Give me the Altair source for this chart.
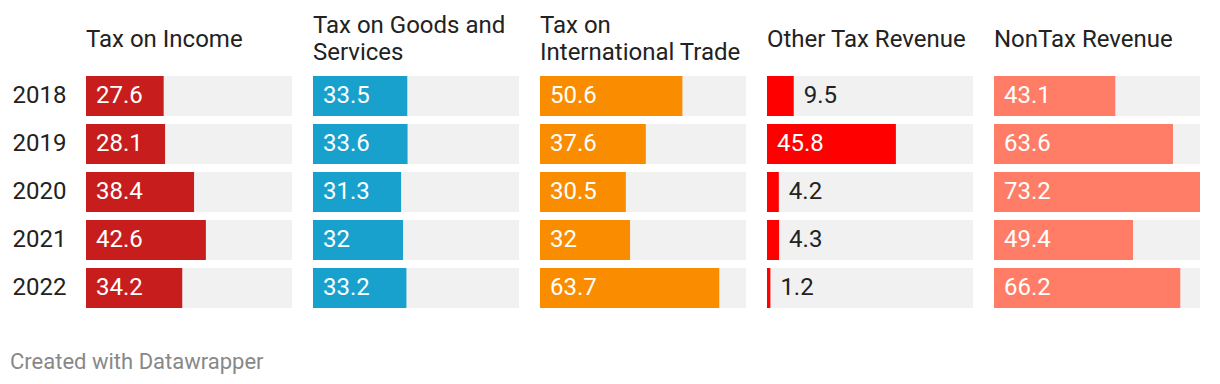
import altair as alt
import pandas as pd

years = ["2018", "2019", "2020", "2021", "2022"]
categories = ["Tax on Income", "Tax on Goods and Services", "Tax on International Trade",
              "Other Tax Revenue", "NonTax Revenue"]
titles = [["Tax on Income"], ["Tax on Goods and", "Services"], ["Tax on", "International Trade"],
          ["Other Tax Revenue"], ["NonTax Revenue"]]
tax_income = [27.6, 28.1, 38.4, 42.6, 34.2]
tax_goods = [33.5, 33.6, 31.3, 32, 33.2]
tax_trade = [50.6, 37.6, 30.5, 32, 63.7]
other_tax = [9.5, 45.8, 4.2, 4.3, 1.2]
nontax = [43.1, 63.6, 73.2, 49.4, 66.2]
colors = ["#c71e1d", "#18a1cd", "#fa8c00", "#ff0000", "#ff7d66"]

series = [tax_income, tax_goods, tax_trade, other_tax, nontax]
DOMAIN_MAX = max(max(s) for s in series)
INSIDE_MIN = 15

FONT = "Roboto"
FS = 24
W, H = 206, 240
OFF2 = -5          # offset for two-line headers
OFF1 = OFF2 + 13   # single-line headers centred on the two-line block

panels = []
for i, (cat, vals) in enumerate(zip(categories, series)):
    df = pd.DataFrame({"year": years, "value": vals,
                       "label": [("%g" % v) for v in vals]})
    base = alt.Chart(df)
    yenc = alt.Y("year:N", sort=years,
                 scale=alt.Scale(paddingInner=1/6, paddingOuter=1/12),
                 axis=(alt.Axis(title=None, ticks=False, domain=False, labelFont=FONT,
                                labelFontSize=FS, labelColor="#222", labelPadding=20,
                                labelAlign="right")
                       if i == 0 else None))
    xscale = alt.Scale(domain=[0, DOMAIN_MAX], nice=False, zero=True)
    bg = base.mark_bar(color="#f1f1f1").encode(
        x=alt.X(datum=0, scale=xscale, axis=None), x2=alt.X2(datum=DOMAIN_MAX), y=yenc)
    bar = base.mark_bar(color=colors[i]).encode(
        x=alt.X("value:Q", scale=xscale, axis=None), y=yenc)
    txt_in = base.transform_filter(alt.datum.value >= INSIDE_MIN).mark_text(
        align="left", baseline="middle", dx=10, font=FONT, fontSize=FS, color="white").encode(
        x=alt.X(datum=0, scale=xscale, axis=None), y=yenc, text="label:N")
    txt_out = base.transform_filter(alt.datum.value < INSIDE_MIN).mark_text(
        align="left", baseline="middle", dx=10, font=FONT, fontSize=FS, color="#222").encode(
        x=alt.X("value:Q", scale=xscale, axis=None), y=yenc, text="label:N")
    layer = alt.layer(bg, bar, txt_in, txt_out).properties(
        width=W, height=H,
        title=alt.TitleParams(text=titles[i], anchor="start", frame="group", font=FONT,
                              fontSize=FS, fontWeight="normal", color="#222",
                              baseline="middle", lineHeight=27,
                              offset=OFF2 if len(titles[i]) > 1 else OFF1))
    panels.append(layer)

chart = alt.hconcat(*panels, spacing=21).properties(
    title=alt.TitleParams(text="Created with Datawrapper", orient="bottom", anchor="start",
                          font=FONT, fontSize=22, fontWeight="normal", color="#888",
                          baseline="middle", offset=50, dx=-2),
    padding={"left": 2, "top": 6, "right": 4, "bottom": 4},
).configure(background="white", view=alt.ViewConfig(strokeWidth=0))

chart.save("out.html", embed_options={"renderer": "svg", "actions": False})
